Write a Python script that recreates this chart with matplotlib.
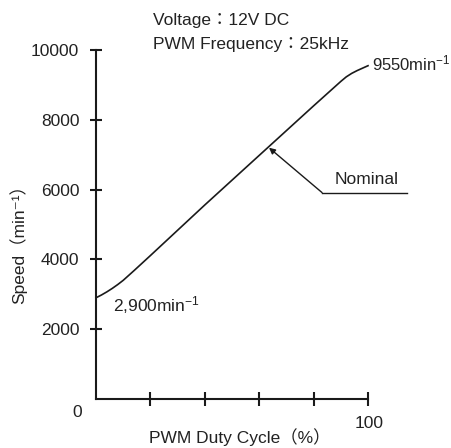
import matplotlib
matplotlib.use('Agg')
import matplotlib.pyplot as plt

# 字体：拉丁字母用 Liberation Sans，全角符号回退到 CJK 字体
plt.rcParams['font.family'] = ['Liberation Sans', 'Noto Sans CJK JP', 'DejaVu Sans']
plt.rcParams['mathtext.fontset'] = 'custom'
plt.rcParams['mathtext.rm'] = 'Liberation Sans'
plt.rcParams['mathtext.it'] = 'Liberation Sans'
plt.rcParams['mathtext.default'] = 'regular'

# 数据：PWM 占空比 (%) 与转速 (min-1)
duty = [0, 2, 4, 6, 8, 10, 12, 14, 20, 40, 60, 80, 88, 90, 92, 94, 96, 98, 100]
speed = [2900, 2980, 3070, 3170, 3280, 3400, 3540, 3680, 4110, 5560, 6980, 8400,
         8960, 9100, 9230, 9330, 9410, 9480, 9550]

x_ticks = [20, 40, 60, 80, 100]
y_ticks = [2000, 4000, 6000, 8000, 10000]

nominal_point = (63.6, 7200)
nominal_label_anchor = (83.1, 5914)

FS = 12.5
TXT = '#222222'
LINE = '#1a1a1a'

fig = plt.figure(figsize=(4.52, 4.48), dpi=100)
ax = fig.add_axes([0.2124, 0.1094, 0.6018, 0.779])

ax.plot(duty, speed, color=LINE, lw=1.2, clip_on=False)

ax.set_xlim(0, 100)
ax.set_ylim(0, 10000)
for s in ['top', 'right']:
    ax.spines[s].set_visible(False)
for s in ['left', 'bottom']:
    ax.spines[s].set_linewidth(1.5)
    ax.spines[s].set_color(LINE)

ax.set_xticks(x_ticks)
ax.set_xticklabels([])
ax.set_yticks(y_ticks)
ax.set_yticklabels([str(v) for v in y_ticks], fontsize=FS, color=TXT)
ax.tick_params(axis='x', direction='inout', length=10, width=1.5, color=LINE)
ax.tick_params(axis='y', direction='inout', length=8, width=1.5, color=LINE, pad=8)

# 坐标轴端点标签
ax.annotate('0', xy=(0, 0), xytext=(-13.7, -9.4), textcoords='offset points',
            ha='center', va='center', fontsize=FS, color=TXT, annotation_clip=False)
ax.annotate('100', xy=(100, 0), xytext=(0.7, -17.5), textcoords='offset points',
            ha='center', va='center', fontsize=FS, color=TXT, annotation_clip=False)

# 轴标题
fig.text(240 / 452, 1 - 437 / 448, 'PWM Duty Cycle（%）', ha='center', va='center',
         fontsize=FS, color=TXT)
fig.text(18 / 452, 1 - 240 / 448, 'Speed（min⁻¹）', ha='center', va='center',
         rotation=90, fontsize=FS, color=TXT)

# 条件说明
fig.text(153 / 452, 1 - 20 / 448, 'Voltage：12V DC', ha='left', va='center',
         fontsize=FS, color=TXT)
fig.text(153 / 452, 1 - 45 / 448, 'PWM Frequency：25kHz', ha='left', va='center',
         fontsize=FS, color=TXT)

# 端点注释
ax.annotate(r'9550min$^{-1}$', xy=(duty[-1], speed[-1]), xytext=(3, 1.5), textcoords='offset points',
            ha='left', va='center', fontsize=12, color=TXT, annotation_clip=False)
ax.annotate(r'2,900min$^{-1}$', xy=(duty[0], speed[0]), xytext=(12, -5.5), textcoords='offset points',
            ha='left', va='center', fontsize=FS, color=TXT, annotation_clip=False)

# Nominal 引线
ax.annotate('', xy=nominal_point, xytext=nominal_label_anchor,
            arrowprops=dict(arrowstyle='-|>', color=LINE, lw=1.0,
                            mutation_scale=9, shrinkA=0, shrinkB=0),
            annotation_clip=False)
ax.plot([nominal_label_anchor[0], 114.3], [nominal_label_anchor[1]] * 2,
        color=LINE, lw=1.0, clip_on=False)
ax.text(99.5, 6280, 'Nominal', ha='center', va='center', fontsize=FS, color=TXT)

fig.savefig('out.png', dpi=100)
